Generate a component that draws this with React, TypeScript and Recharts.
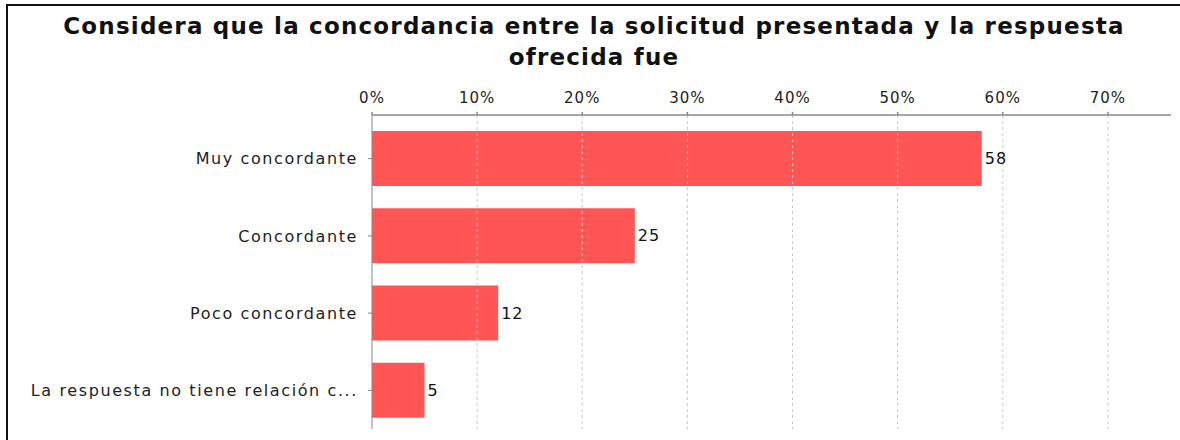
import { BarChart, Bar, XAxis, YAxis, ReferenceLine, LabelList } from "recharts";

const categories = [
  "Muy concordante",
  "Concordante",
  "Poco concordante",
  "La respuesta no tiene relación c...",
];
const values = [58, 25, 12, 5];
const xTicks = [0, 10, 20, 30, 40, 50, 60, 70];

const data = categories.map((name, i) => ({ name, value: values[i] }));

const font = "'DejaVu Sans', sans-serif";

export default function App() {
  return (
    <div
      style={{
        position: "absolute",
        left: 0,
        top: 0,
        width: 1180,
        height: 440,
        background: "#fff",
        fontFamily: font,
        overflow: "hidden",
      }}
    >
      <div
        style={{
          position: "absolute",
          left: 6,
          top: 4,
          width: 1174,
          height: 436,
          borderTop: "2px solid #111",
          borderLeft: "2px solid #111",
        }}
      />
      <div
        style={{
          position: "absolute",
          left: 8,
          top: 11,
          width: 1172,
          textAlign: "center",
          fontSize: 23,
          fontWeight: "bold",
          lineHeight: "31px",
          color: "#111",
          letterSpacing: 1.2,
        }}
      >
        Considera que la concordancia entre la solicitud presentada y la respuesta
        <br />
        ofrecida fue
      </div>
      <div style={{ position: "absolute", left: 0, top: 0 }}>
        <BarChart
          width={1180}
          height={440}
          data={data}
          layout="vertical"
          margin={{ top: 75, right: 9, bottom: 11, left: 0 }}
          barSize={55}
        >
          {xTicks.slice(1).map((t) => (
            <ReferenceLine
              key={t}
              x={t}
              stroke="#c8c8c8"
              strokeDasharray="3 3"
            />
          ))}
          <XAxis
            type="number"
            orientation="top"
            domain={[0, 76]}
            ticks={xTicks}
            tickFormatter={(v: number) => `${v}%`}
            height={40}
            tickSize={3}
            tickMargin={9}
            stroke="#888"
            strokeWidth={1.5}
            tick={{ fontSize: 15, fill: "#222", fontFamily: font, letterSpacing: 1 }}
          />
          <YAxis
            type="category"
            dataKey="name"
            width={372}
            padding={{ top: 5, bottom: 0 }}
            tickSize={4}
            tickMargin={10}
            stroke="#888"
            tick={{ fontSize: 16, fill: "#222", fontFamily: font, letterSpacing: 1.6 }}
          />
          <Bar dataKey="value" fill="#ff5555" isAnimationActive={false}>
            <LabelList
              dataKey="value"
              position="right"
              offset={3}
              fill="#111"
              fontSize={16}
              fontFamily={font}
              letterSpacing={1}
            />
          </Bar>
        </BarChart>
      </div>
    </div>
  );
}
